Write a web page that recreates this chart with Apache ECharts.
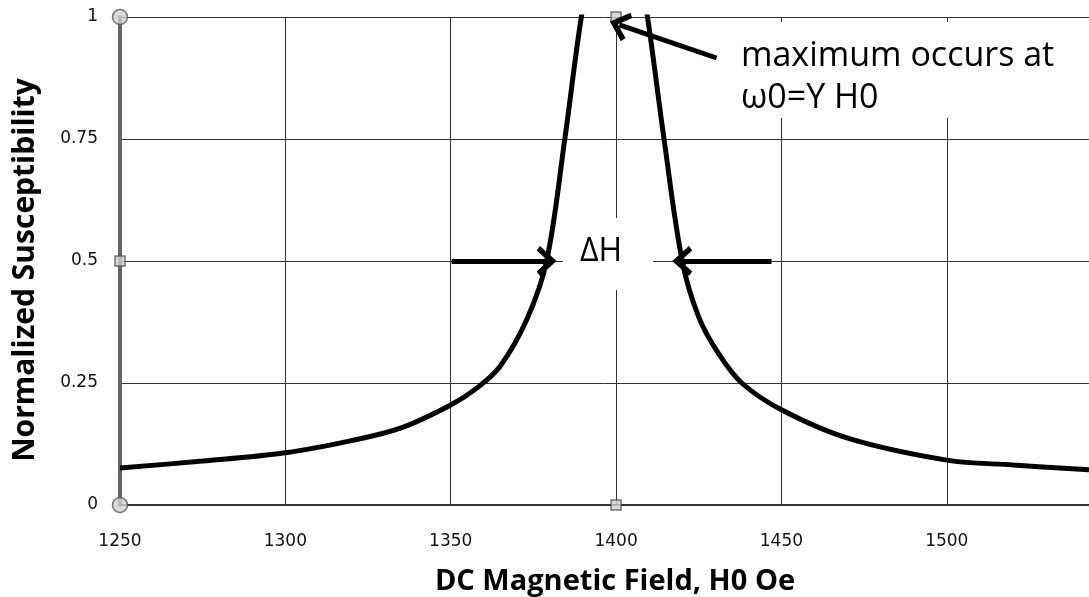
<!DOCTYPE html>
<html>
<head>
<meta charset="utf-8">
<script src="https://cdn.jsdelivr.net/npm/echarts@6/dist/echarts.min.js"></script>
<style>
  html, body { margin: 0; padding: 0; background: #fff; }
  #main { width: 1089px; height: 597px; }
</style>
</head>
<body>
<div id="main"></div>
<script>
// field values (Oe) and normalized susceptibility
var fieldH = [1250, 1275, 1300, 1320, 1335, 1350, 1358, 1365, 1373, 1379, 1384.5, 1389.5, 1395, 1400, 1405, 1409.5, 1414.5, 1420, 1425, 1431, 1438, 1450, 1470, 1500, 1520, 1543];
var chi = [0.076, 0.09, 0.107, 0.132, 0.158, 0.205, 0.24, 0.285, 0.38, 0.5, 0.75, 1.0, 1.2, 1.25, 1.18, 1.0, 0.75, 0.5, 0.385, 0.31, 0.25, 0.195, 0.137, 0.092, 0.082, 0.072];

// grey point markers on the axes
var markerX = [1250, 1250, 1250, 1400, 1400];
var markerY = [1, 0.5, 0, 1, 0];
var markerShape = ['circle', 'rect', 'circle', 'rect', 'rect'];

// annotation arrows [from, to]
var arrows = [
  [[1350.3, 0.5], [1379, 0.5]],
  [[1447, 0.5], [1420, 0.5]],
  [[1430.4, 0.916], [1401, 0.984]]
];

var chevron = 'path://M10,0 L20,10 L17,12 L10,5 L3,12 L0,10 Z';

var chart = echarts.init(document.getElementById('main'));

chart.setOption({
  animation: false,
  backgroundColor: '#fff',
  grid: { left: 120, top: 17, bottom: 92, right: 0, outerBoundsMode: 'none', containLabel: false },
  xAxis: {
    type: 'value',
    min: 1250,
    max: 1543,
    interval: 50,
    name: 'DC Magnetic Field, H0 Oe',
    nameLocation: 'middle',
    nameGap: 62,
    nameTextStyle: { fontFamily: 'Open Sans', fontWeight: 'bold', fontSize: 29, color: '#000', padding: [0, 0, 0, 21] },
    axisLine: { onZero: false, lineStyle: { color: '#333', width: 2 } },
    axisTick: { show: false },
    axisLabel: {
      margin: 28, showMaxLabel: false, fontFamily: 'DejaVu Sans', fontSize: 17, color: '#111',
      formatter: function (v) { return String(v); }
    },
    splitLine: { lineStyle: { color: '#333', width: 1 } }
  },
  yAxis: {
    type: 'value',
    min: 0,
    max: 1,
    interval: 0.25,
    name: 'Normalized Susceptibility',
    nameLocation: 'middle',
    nameGap: 80,
    nameTextStyle: { fontFamily: 'Open Sans', fontWeight: 'bold', fontSize: 30, color: '#000', padding: [0, 18, 0, 0] },
    axisLine: { show: true, lineStyle: { color: '#666', width: 4 } },
    axisTick: { show: false },
    axisLabel: { margin: 22, fontFamily: 'DejaVu Sans', fontSize: 17, color: '#111' },
    splitLine: { lineStyle: { color: '#333', width: 1 } }
  },
  series: [
    {
      type: 'line',
      data: fieldH.map(function (h, i) { return [h, chi[i]]; }),
      smooth: 0.35,
      showSymbol: false,
      clip: true,
      lineStyle: { color: '#000', width: 5 },
      z: 3,
      markLine: {
        silent: true,
        symbol: ['none', chevron],
        symbolSize: [30, 20],
        label: { show: false },
        lineStyle: { color: '#000', width: 5, type: 'solid' },
        data: arrows.map(function (a) {
          return [{ coord: a[0] }, { coord: a[1] }];
        })
      }
    },
    {
      type: 'scatter',
      data: markerX.map(function (x, i) {
        return { value: [x, markerY[i]], symbol: markerShape[i], symbolSize: markerShape[i] === 'circle' ? 15 : 10 };
      }),
      itemStyle: { color: '#d0d0d0', borderColor: '#555', borderWidth: 1.5 },
      clip: false,
      z: 4
    }
  ],
  graphic: [
    { type: 'rect', shape: { x: 563, y: 218, width: 90, height: 72 }, style: { fill: '#fff' }, z: 10 },
    { type: 'text', x: 601, y: 252, style: { text: 'ΔH', fontFamily: 'Open Sans', fontSize: 32, fill: '#000', align: 'center', verticalAlign: 'middle' }, z: 11 },
    { type: 'rect', shape: { x: 722, y: 22, width: 367, height: 96 }, style: { fill: '#fff' }, z: 10 },
    { type: 'text', x: 741, y: 56, style: { text: 'maximum occurs at', fontFamily: 'Open Sans', fontSize: 34, fill: '#000', align: 'left', verticalAlign: 'middle' }, z: 11 },
    { type: 'text', x: 741, y: 98, style: { text: 'ω0=Υ H0', fontFamily: 'Open Sans', fontSize: 34, fill: '#000', align: 'left', verticalAlign: 'middle' }, z: 11 }
  ]
});
</script>
</body>
</html>
